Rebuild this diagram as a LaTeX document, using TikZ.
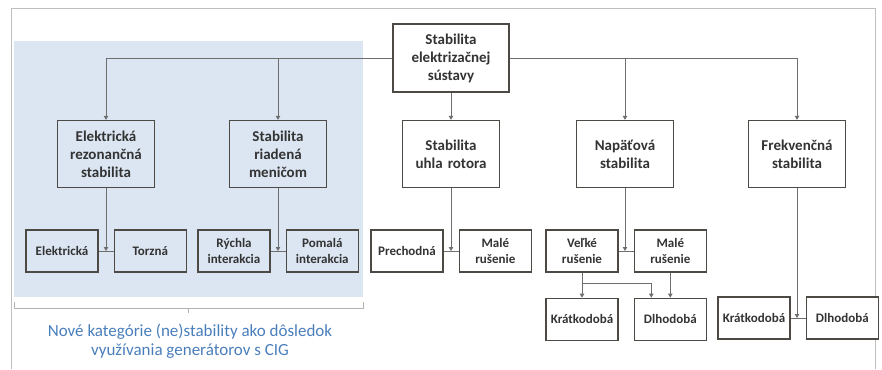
\documentclass[tikz,border=0pt]{standalone}
\usepackage{fontspec}
\setmainfont{Carlito}
\usepackage{tikz}
\usetikzlibrary{positioning,arrows.meta,calc}
\definecolor{cigblue}{HTML}{DCE6F2}
\definecolor{cigtext}{HTML}{4A7EBB}
\definecolor{boxline}{HTML}{4D4A46}
\definecolor{wire}{HTML}{6E6E6E}
\tikzset{
  blk/.style ={rectangle, draw=boxline, line width=1.3pt, fill=white, align=center,
               inner sep=2pt, font=\fontsize{15}{18}\selectfont\bfseries, text=black!80,
               minimum width=97pt, minimum height=67pt, text width=90pt},
  sub/.style ={blk, font=\fontsize{13}{16}\selectfont\bfseries,
               minimum width=72pt, minimum height=42pt, text width=68pt},
  newb/.style={fill=cigblue},
  arr/.style ={-{Triangle[length=4pt,width=4.5pt]}, draw=wire, line width=0.9pt},
  lnk/.style ={draw=wire, line width=0.9pt},
}
\begin{document}
\begin{tikzpicture}[x=1pt, y=-1pt, node distance=15pt]
  \useasboundingbox (0,0) rectangle (882,369);
  % frame and the new categories
  \draw[black!25, line width=0.8pt] (11,369) -- (11,8) -- (875,8) -- (875,369);
  \fill[cigblue] (14,41) rectangle (363,297);
  \draw[black!30, line width=0.8pt] (14,302) -- (14,308) -- (363,308) -- (363,302)
       (188.5,308) -- (188.5,313);
  \node[text=cigtext, font=\fontsize{17}{19}\selectfont, align=center] (cig) at (190,341)
       {Nové kategórie (ne)stability ako dôsledok\\využívania generátorov s CIG};

  \node[blk, minimum width=116pt, minimum height=68pt] (ses) at (451,58) {Stabilita\\elektrizačnej\\sústavy};
  \node[blk, newb] (ers) at (106,154) {Elektrická\\rezonančná\\stabilita};
  \node[blk, newb] (srm) at (278,154) {Stabilita\\riadená\\meničom};
  \node[blk] (sur) at (451,154) {Stabilita\\uhla rotora};
  \node[blk] (nap) at (625,154) {Napäťová\\stabilita};
  \node[blk] (frk) at (797,154) {Frekvenčná\\stabilita};

  \node[sub, newb] (ele) at (62,251) {Elektrická};
  \node[sub, newb, right=of ele] (tor) {Torzná};
  \node[sub, newb] (ryc) at (234,251) {Rýchla\\interakcia};
  \node[sub, newb, right=of ryc] (pom) {Pomalá\\interakcia};
  \node[sub] (pre) at (407,251) {Prechodná};
  \node[sub, right=of pre] (mr1) {Malé\\rušenie};
  \node[sub] (vel) at (582,251) {Veľké\\rušenie};
  \node[sub, right=of vel] (mr2) {Malé\\rušenie};
  \node[sub, below=25pt of vel] (kr1) {Krátkodobá};
  \node[sub, below=25pt of mr2] (dl1) {Dlhodobá};
  \node[sub] (kr2) at (754,318) {Krátkodobá};
  \node[sub, minimum width=70pt, right=of kr2] (dl2) {Dlhodobá};

  \draw[arr] (ses.west) -| (ers.north);
  \draw[arr] (ses.west) -| (srm.north);
  \draw[arr] (ses.south) -- (sur.north);
  \draw[arr] (ses.east) -| (nap.north);
  \draw[arr] (ses.east) -| (frk.north);
  \foreach \l/\r/\p in {ele/tor/ers, ryc/pom/srm, pre/mr1/sur, vel/mr2/nap, kr2/dl2/frk}{
    \draw[lnk] (\l.east) -- (\r.west);
    \draw[arr] (\p.south) -- (\p.south |- \l.east);
  }
  \coordinate (vk) at ($(vel.south)!0.45!(kr1.north)$);
  \draw[arr] (vel.south) -- (kr1.north);
  \draw[arr] (vk) -| ([xshift=-19pt]dl1.north);
  \draw[arr] (mr2.south) -- (mr2.south |- dl1.north);
\end{tikzpicture}
\end{document}
